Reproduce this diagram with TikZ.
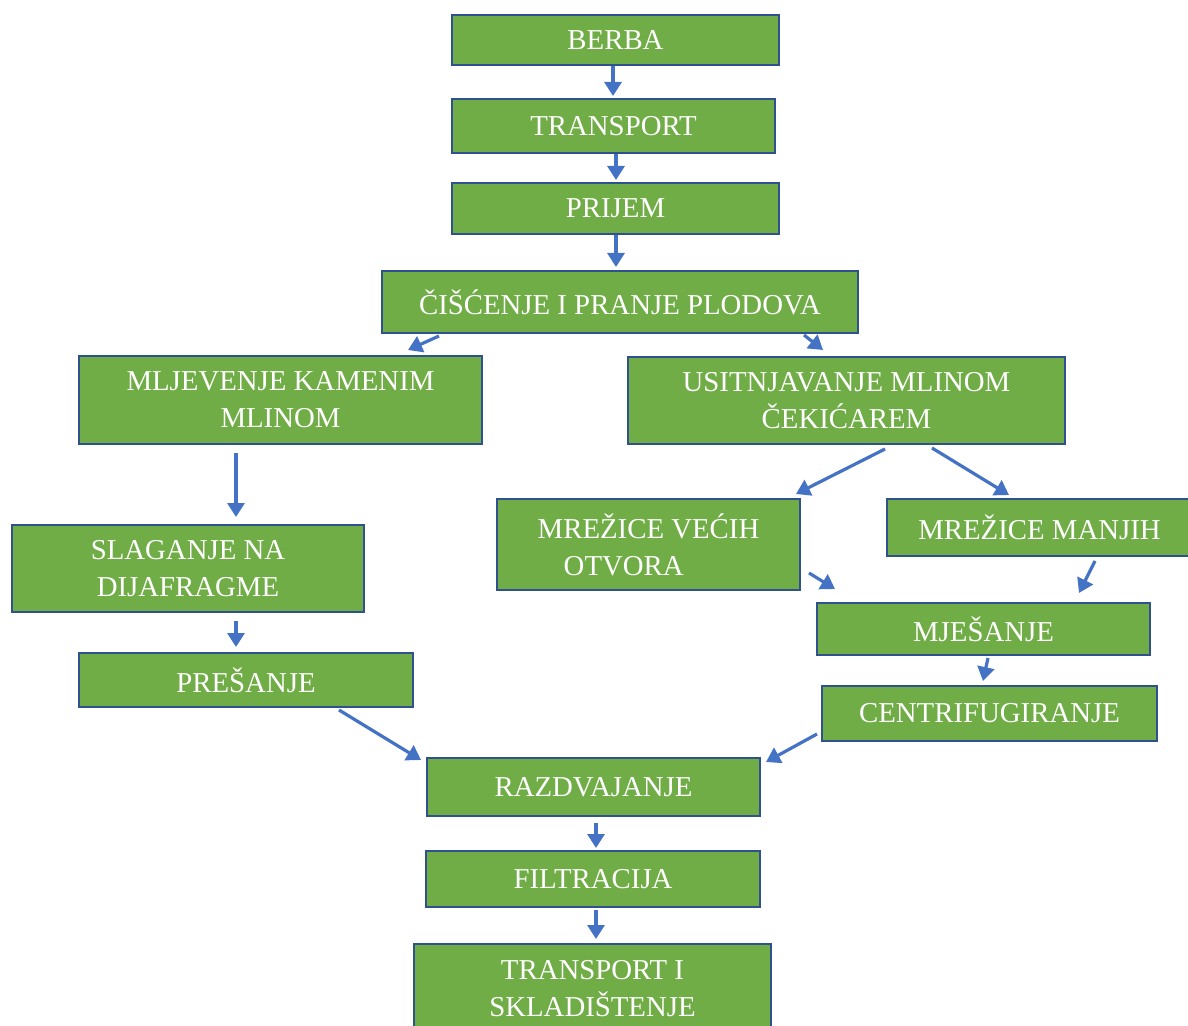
\documentclass[tikz,border=0pt]{standalone}
\usepackage{fontspec}
\setmainfont{Liberation Serif}
\usetikzlibrary{arrows.meta}
\definecolor{boxgreen}{HTML}{70AD47}
\definecolor{boxline}{HTML}{2F528F}
\definecolor{arrblue}{HTML}{4472C4}
\tikzset{
  box/.style={draw=boxline, line width=1pt, fill=boxgreen, text=white, inner sep=0pt,
    align=center, font=\fontsize{14.4}{18.5}\selectfont},
  arr/.style={draw=arrblue, line width=1.6pt, -{Triangle[width=8.5pt,length=7pt]}}
}
\newcommand\pbox[6]{\node[box, minimum width={(#4-#2)*0.5pt}, minimum height={(#5-#3)*0.5pt}] (#1) at ({(#2+#4)/2},{(#3+#5)/2}) {#6};}
\begin{document}
\begin{tikzpicture}[x=0.5pt,y=-0.5pt]
\useasboundingbox (0,0) rectangle (1188,1026);
\pbox{berba}{452}{15}{779}{65}{BERBA}
\pbox{transp}{452}{99}{775}{153}{TRANSPORT}
\pbox{prijem}{452}{183}{779}{234}{PRIJEM}
\pbox{cisc}{382}{271}{858}{333}{ČIŠĆENJE I PRANJE PLODOVA}
\pbox{mljev}{79}{356}{482}{444}{MLJEVENJE KAMENIM\\MLINOM}
\pbox{usitn}{628}{357}{1065}{444}{USITNJAVANJE MLINOM\\ČEKIĆAREM}
\pbox{slag}{12}{525}{364}{612}{SLAGANJE NA\\DIJAFRAGME}
\node[box, align=left, minimum width=151.5pt, minimum height=45.5pt] (vecih) at (648.5,544.5) {MREŽICE VEĆIH\\\hspace*{13pt}OTVORA};
\pbox{manjih}{887}{499}{1192}{556}{MREŽICE MANJIH}
\pbox{mjes}{817}{603}{1150}{655}{MJEŠANJE}
\pbox{presa}{79}{653}{413}{707}{PREŠANJE}
\pbox{centr}{822}{686}{1157}{741}{CENTRIFUGIRANJE}
\pbox{razdv}{427}{758}{760}{816}{RAZDVAJANJE}
\pbox{filtr}{426}{851}{760}{907}{FILTRACIJA}
\pbox{skl}{414}{944}{771}{1034}{TRANSPORT I\\SKLADIŠTENJE}
% arrows
\draw[arr] (berba.south -| 613,0) -- ([yshift=1pt]transp.north -| 613,0);
\draw[arr] (transp.south -| 616,0) -- ([yshift=1pt]prijem.north -| 616,0);
\draw[arr] (prijem.south -| 616,0) -- ([yshift=1.5pt]cisc.north -| 616,0);
\draw[arr] ([xshift=29pt,yshift=-1pt]cisc.south west) -- ([xshift=165pt,yshift=2.5pt]mljev.north west);
\draw[arr] ([xshift=-27.5pt,yshift=-0.5pt]cisc.south east) -- ([xshift=98pt,yshift=3pt]usitn.north west);
\draw[arr] ([yshift=-4pt]mljev.south -| 236,0) -- ([yshift=3.5pt]slag.north -| 236,0);
\draw[arr] ([yshift=-4pt]slag.south -| 236,0) -- ([yshift=2.5pt]presa.north -| 236,0);
\draw[arr] ([xshift=129pt,yshift=-2pt]usitn.south west) -- ([xshift=150pt,yshift=2pt]vecih.north west);
\draw[arr] ([xshift=152.5pt,yshift=-1.5pt]usitn.south west) -- ([xshift=61.5pt,yshift=1.5pt]manjih.north west);
\draw[arr] ([xshift=4pt,yshift=9pt]vecih.south east) -- ([xshift=9.5pt,yshift=6.5pt]mjes.north west);
\draw[arr] ([xshift=104.5pt,yshift=-2pt]manjih.south west) -- ([xshift=131.5pt,yshift=4.5pt]mjes.north west);
\draw[arr] ([xshift=86pt,yshift=-1pt]mjes.south west) -- ([xshift=81pt,yshift=2pt]centr.north west);
\draw[arr] ([xshift=130.5pt,yshift=-1pt]presa.south west) -- ([xshift=-2.5pt,yshift=-1.5pt]razdv.north west);
\draw[arr] ([xshift=-2pt,yshift=-24.5pt]centr.north west) -- ([xshift=2.5pt,yshift=-2.5pt]razdv.north east);
\draw[arr] ([yshift=-3pt]razdv.south -| 596,0) -- ([yshift=1pt]filtr.north -| 596,0);
\draw[arr] ([yshift=-1pt]filtr.south -| 596,0) -- ([yshift=2pt]skl.north -| 596,0);
\end{tikzpicture}
\end{document}
